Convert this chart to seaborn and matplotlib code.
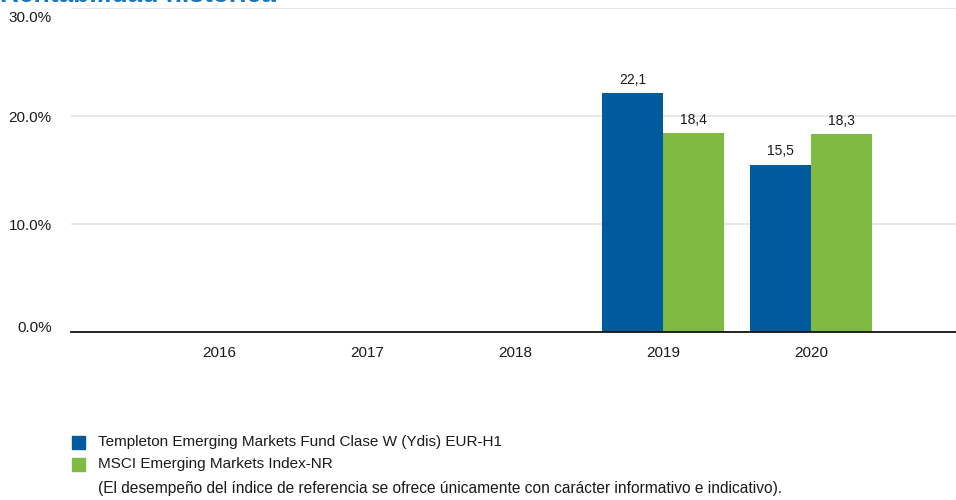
import matplotlib
matplotlib.use("Agg")
import matplotlib.pyplot as plt
import matplotlib.transforms as mtransforms
import seaborn as sns
import pandas as pd
import numpy as np

years = ["2016", "2017", "2018", "2019", "2020"]
fund_name = "Templeton Emerging Markets Fund Clase W (Ydis) EUR-H1"
index_name = "MSCI Emerging Markets Index-NR"
fund_values = [np.nan, np.nan, np.nan, 22.1, 15.5]
index_values = [np.nan, np.nan, np.nan, 18.4, 18.3]
y_ticks = [0, 10, 20, 30]
y_tick_labels = ["0.0%", "10.0%", "20.0%", "30.0%"]
title = "Rentabilidad histórica"
footnote = "(El desempeño del índice de referencia se ofrece únicamente con carácter informativo e indicativo)."

blue = "#005A9E"
green = "#7FBA42"
txt = "#1a1a1a"

sns.set_theme(style="white")
plt.rcParams["font.family"] = ["Liberation Sans", "DejaVu Sans"]

df = pd.DataFrame({
    "year": years * 2,
    "value": fund_values + index_values,
    "series": [fund_name] * len(years) + [index_name] * len(years),
})

fig = plt.figure(figsize=(9.56, 5.0), dpi=100)
ax = fig.add_axes([71 / 956, 1 - 332 / 500, 888 / 956, 324 / 500])

sns.barplot(data=df, x="year", y="value", hue="series", order=years,
            hue_order=[fund_name, index_name], palette=[blue, green],
            width=0.82, ax=ax, legend=False, saturation=1, linewidth=0)

ax.set_ylim(0, 30)
ax.set_xlim(-1, 5)
ax.set_yticks(y_ticks)
ax.set_yticklabels(y_tick_labels, fontsize=11, color=txt)
ax.tick_params(axis="y", length=0, pad=14)
ax.tick_params(axis="x", length=0, pad=10, labelsize=11, labelcolor=txt)
offs = {"30.0%": -9, "0.0%": 6}
for lab in ax.get_yticklabels():
    d = offs.get(lab.get_text(), 0)
    if d:
        lab.set_transform(lab.get_transform() + mtransforms.ScaledTranslation(0, d / 100, fig.dpi_scale_trans))
ax.set_xlabel("")
ax.set_ylabel("")
ax.grid(axis="y", color="#e3e3e3", linewidth=1.2)
ax.set_axisbelow(True)
for s in ["top", "right", "left"]:
    ax.spines[s].set_visible(False)
ax.spines["bottom"].set_color("#111111")
ax.spines["bottom"].set_linewidth(1.3)

for p in ax.patches:
    h = p.get_height()
    if np.isfinite(h) and h > 0:
        ax.annotate(f"{h:.1f}".replace(".", ","), (p.get_x() + p.get_width() / 2, h),
                    xytext=(0, 4.5), textcoords="offset points", ha="center", va="bottom",
                    fontsize=10, color=txt)

fig.text(0.0, 1 - 2 / 500, title, color="#1a75bb", fontsize=19, fontweight="bold",
         va="baseline", ha="left")

for i, (name, col) in enumerate([(fund_name, blue), (index_name, green)]):
    yc = 1 - (442 + 22 * i) / 500
    fig.patches.append(plt.Rectangle((72 / 956, yc - 6.5 / 500), 13 / 956, 13 / 500,
                                     transform=fig.transFigure, color=col, figure=fig))
    fig.text(98 / 956, yc, name, fontsize=11, va="center", ha="left", color=txt)

fig.text(98 / 956, 1 - 488 / 500, footnote, fontsize=11.2, va="center", ha="left", color=txt)

fig.savefig("out.png", dpi=100)
